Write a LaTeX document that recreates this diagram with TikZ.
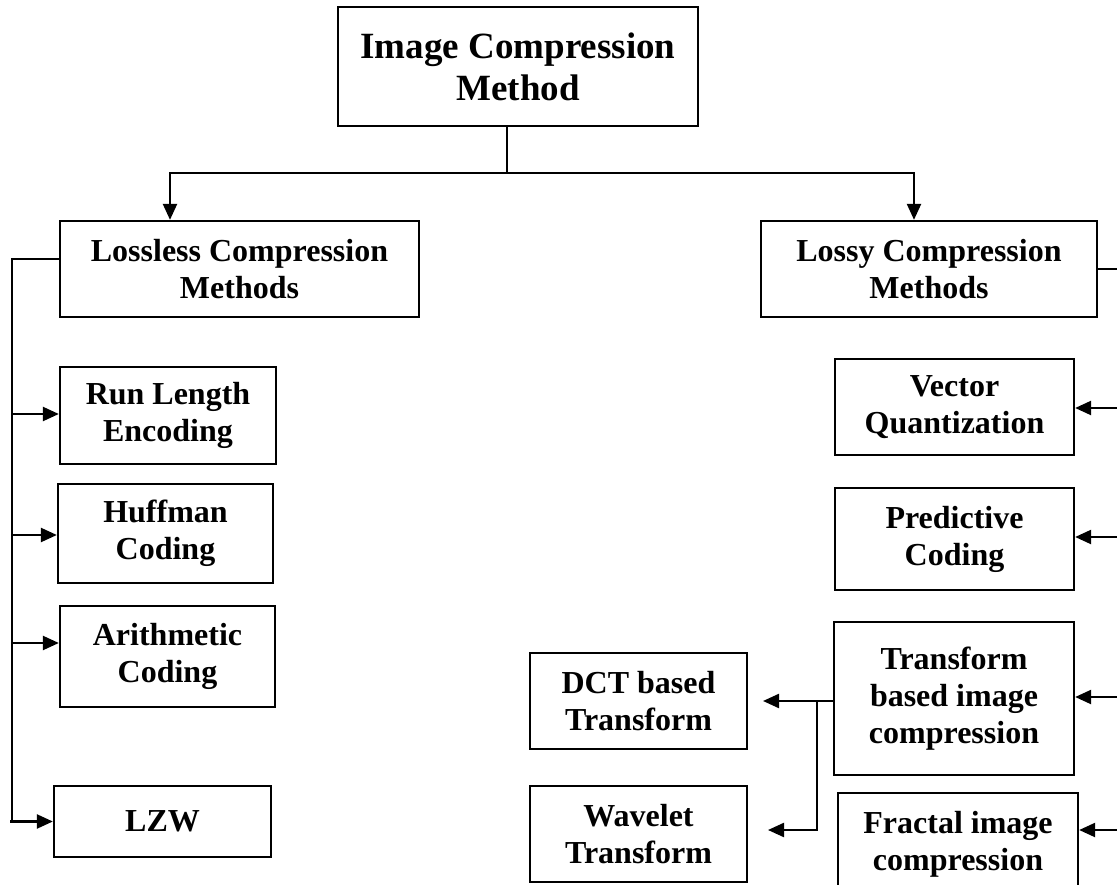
\documentclass[tikz,border=0pt]{standalone}
\usepackage{fontspec}
\setmainfont{Liberation Serif}
\usetikzlibrary{arrows.meta}
\begin{document}
\begin{tikzpicture}[x=1pt,y=-1pt,
  box/.style={draw, line width=2.3pt, align=center, inner sep=0pt,
    font=\fontsize{32}{37}\selectfont\bfseries},
  titlebox/.style={box, font=\fontsize{37}{42}\selectfont\bfseries},
  link/.style={line width=2.3pt, line join=miter},
  arr/.style={link, -{Triangle[length=16pt,width=14pt]}},
]
\useasboundingbox (0,0) rectangle (1117,885);
\clip (0,0) rectangle (1117,885);

% --- boxes ---
\node[titlebox, minimum width=360pt, minimum height=119pt] (top) at (518,66.5) {Image Compression\\Method};

\node[box, minimum width=359pt, minimum height=96pt] (lossless) at (239.5,269) {Lossless Compression\\Methods};
\node[box, minimum width=336pt, minimum height=96pt] (lossy) at (929,269) {Lossy Compression\\Methods};

\node[box, minimum width=216pt, minimum height=97pt] (run) at (168,415.5) {Run Length\\Encoding};
\node[box, minimum width=215pt, minimum height=99pt] (huff) at (165.5,533.5) {Huffman\\Coding};
\node[box, minimum width=215pt, minimum height=101pt] (arith) at (167.5,656.5) {Arithmetic\\Coding};
\node[box, minimum width=217pt, minimum height=71pt] (lzw) at (162.5,821.5) {LZW};

\node[box, minimum width=239pt, minimum height=96pt] (vq) at (954.5,407) {Vector\\Quantization};
\node[box, minimum width=239pt, minimum height=102pt] (pred) at (954.5,539) {Predictive\\Coding};
\node[box, minimum width=240pt, minimum height=153pt] (trans) at (954,698.5) {Transform\\based image\\compression};
\node[box, minimum width=240pt, minimum height=102pt] (fract) at (958,844) {Fractal image\\compression};

\node[box, minimum width=217pt, minimum height=96pt] (dct) at (638.5,701) {DCT based\\Transform};
\node[box, minimum width=217pt, minimum height=96pt] (wav) at (638.5,834) {Wavelet\\Transform};

% --- top split ---
\coordinate (split) at (507,173);
\coordinate (lin) at (170,173);
\coordinate (rin) at (914,173);
\draw[link] (top.south -| split) -- (split);
\draw[arr] (split) -- (lin) -- (lin |- lossless.north);
\draw[arr] (split) -- (rin) -- (rin |- lossy.north);

% --- lossless bus ---
\coordinate (lbus) at (12,259);
\coordinate (l1) at (12,414);
\coordinate (l2) at (12,535);
\coordinate (l3) at (12,643);
\coordinate (l4) at (10,821.5);
\draw[link] (lossless.west |- lbus) -- (lbus) -- (lbus |- lzw.west);
\draw[arr] (l1) -- (l1 -| run.west);
\draw[arr] (l2) -- (l2 -| huff.west);
\draw[arr] (l3) -- (l3 -| arith.west);
\draw[arr] (l4) -- (lzw.west);

% --- lossy bus ---
\coordinate (rbus) at (1124,269);
\coordinate (r1) at (1124,408);
\coordinate (r2) at (1124,537);
\coordinate (r3) at (1124,697);
\coordinate (r4) at (1124,830);
\draw[link] (lossy.east) -- (rbus) -- (1124,900);
\draw[arr] (r1) -- (r1 -| vq.east);
\draw[arr] (r2) -- (r2 -| pred.east);
\draw[arr] (r3) -- (r3 -| trans.east);
\draw[arr] (r4) -- (r4 -| fract.east);

% --- transform sub-branch ---
\coordinate (tj) at (817,701);
\coordinate (dtip) at (763,701);
\coordinate (wtip) at (768,830);
\draw[arr] (trans.west |- tj) -- (dtip);
\draw[arr] (tj) -- (tj |- wtip) -- (wtip);
\end{tikzpicture}
\end{document}
